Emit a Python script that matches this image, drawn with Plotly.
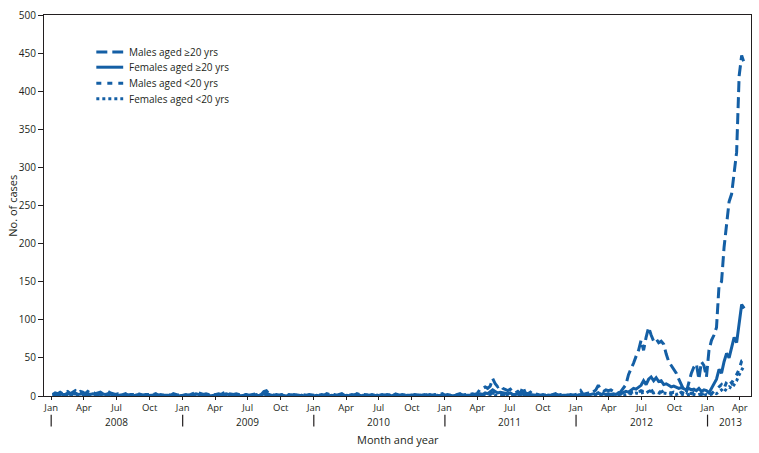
import pandas as pd
import plotly.graph_objects as go

# weekly counts, one list per year (2008-2012 full years, 2013 through mid-April)
weeks = pd.date_range('2008-01-05', '2013-04-13', freq='7D')

m20_2008 = [2, 4, 3, 5, 3, 4, 6, 3, 5, 7, 4, 6, 5,
            3, 6, 4, 5, 3, 4, 5, 3, 4, 6, 4, 3, 2,
            3, 2, 2, 3, 1, 2, 2, 1, 3, 2, 1, 2, 2,
            1, 2, 3, 1, 2, 1, 2, 2, 1, 3, 2, 1, 2]
m20_2009 = [1, 2, 1, 2, 3, 5, 4, 3, 2, 3, 2, 1, 2,
            2, 3, 2, 4, 5, 3, 2, 2, 3, 2, 1, 2, 2,
            1, 2, 2, 3, 1, 2, 6, 7, 3, 2, 1, 2, 1,
            2, 1, 1, 2, 1, 2, 1, 1, 2, 1, 1, 2, 1]
m20_2010 = [1, 2, 1, 2, 1, 3, 2, 1, 2, 1, 2, 3, 1,
            2, 1, 2, 1, 3, 2, 1, 2, 1, 1, 2, 1, 2,
            1, 2, 1, 2, 1, 1, 3, 2, 1, 2, 1, 1, 2,
            1, 2, 1, 1, 2, 3, 1, 2, 1, 2, 1, 2, 3]
m20_2011 = [1, 2, 1, 2, 1, 2, 3, 1, 2, 1, 2, 3, 2,
            4, 9, 10, 12, 10, 13, 23, 16, 12, 14, 10, 9, 7,
            9, 5, 4, 6, 3, 12, 4, 3, 5, 2, 3, 2, 1,
            2, 1, 2, 1, 2, 3, 1, 2, 1, 2, 1, 2, 1, 2]
m20_2012 = [3, 7, 2, 3, 4, 3, 5, 8, 14, 8, 6, 8, 7,
            8, 6, 5, 4, 6, 10, 15, 28, 35, 43, 52, 60, 73,
            60, 77, 90, 80, 72, 75, 70, 72, 68, 55, 45, 40, 35,
            30, 22, 15, 8, 5, 18, 30, 38, 42, 22, 45, 40, 25]
m20_2013 = [60, 73, 80, 90, 145, 150, 195, 225, 255, 265, 295, 320, 420, 447, 437]

f20_2008 = [1, 2, 1, 3, 2, 2, 4, 2, 3, 4, 2, 3, 3,
            2, 3, 2, 3, 2, 2, 3, 2, 2, 3, 2, 1, 1,
            1, 1, 2, 1, 1, 1, 0, 1, 2, 1, 1, 1, 0,
            1, 1, 2, 1, 0, 1, 1, 1, 0, 1, 1, 0, 1]
f20_2009 = [1, 1, 0, 1, 2, 3, 2, 2, 1, 1, 1, 0, 1,
            1, 2, 1, 2, 3, 2, 1, 1, 2, 1, 0, 1, 1,
            0, 1, 1, 2, 0, 1, 3, 4, 2, 1, 0, 1, 0,
            1, 0, 0, 1, 1, 0, 1, 0, 1, 0, 0, 1, 0]
f20_2010 = [0, 1, 0, 1, 1, 1, 0, 1, 1, 0, 1, 2, 0,
            1, 0, 1, 1, 2, 1, 0, 1, 1, 0, 1, 0, 1,
            0, 1, 0, 1, 1, 0, 2, 1, 0, 1, 0, 1, 1,
            0, 1, 0, 1, 1, 2, 0, 1, 0, 1, 0, 1, 1]
f20_2011 = [0, 1, 1, 0, 1, 1, 2, 1, 0, 1, 1, 2, 1,
            2, 3, 2, 4, 3, 5, 8, 6, 4, 5, 4, 3, 3,
            4, 2, 2, 3, 1, 5, 2, 1, 2, 1, 1, 1, 0,
            1, 0, 1, 1, 0, 2, 1, 0, 1, 1, 0, 1, 1, 0]
f20_2012 = [1, 2, 1, 2, 1, 2, 3, 2, 4, 2, 3, 2, 3,
            2, 3, 2, 4, 3, 4, 6, 5, 8, 10, 9, 12, 14,
            20, 15, 22, 25, 20, 24, 19, 20, 15, 16, 14, 12, 13,
            12, 10, 11, 9, 8, 10, 8, 9, 7, 10, 6, 8, 7]
f20_2013 = [4, 10, 18, 22, 35, 30, 45, 56, 50, 64, 77, 70, 95, 120, 115]

mu20_2008 = [1, 1, 2, 1, 1, 2, 1, 2, 1, 3, 2, 1, 2,
             1, 2, 1, 1, 2, 1, 1, 2, 1, 1, 1, 0, 1,
             0, 1, 1, 0, 1, 0, 1, 1, 0, 1, 0, 1, 0,
             1, 0, 1, 0, 1, 1, 0, 1, 0, 1, 0, 1, 0]
mu20_2009 = [0, 1, 0, 1, 1, 2, 1, 1, 0, 1, 0, 0, 1,
             1, 1, 0, 1, 2, 1, 0, 1, 1, 0, 0, 1, 0,
             0, 1, 0, 1, 0, 1, 2, 2, 1, 0, 0, 1, 0,
             0, 1, 0, 0, 1, 0, 0, 1, 0, 0, 1, 0, 0]
mu20_2010 = [0, 0, 1, 0, 0, 1, 1, 0, 1, 0, 0, 1, 0,
             0, 1, 0, 0, 1, 0, 1, 0, 0, 1, 0, 0, 1,
             0, 0, 1, 0, 1, 0, 1, 0, 0, 1, 0, 0, 0,
             1, 0, 0, 1, 0, 1, 0, 0, 1, 0, 1, 0, 1]
mu20_2011 = [0, 1, 0, 0, 1, 0, 1, 0, 1, 0, 0, 1, 1,
             1, 2, 1, 2, 1, 3, 4, 3, 2, 2, 2, 1, 1,
             2, 1, 1, 1, 0, 2, 1, 0, 1, 0, 1, 0, 0,
             1, 0, 0, 1, 0, 1, 0, 0, 1, 0, 1, 0, 0, 1]
mu20_2012 = [1, 2, 1, 1, 2, 1, 2, 3, 4, 2, 2, 3, 2,
             2, 1, 2, 2, 3, 2, 3, 4, 4, 5, 6, 5, 7,
             6, 8, 7, 6, 8, 7, 6, 5, 7, 6, 5, 4, 5,
             4, 3, 5, 3, 2, 4, 3, 5, 3, 4, 2, 3, 2]
mu20_2013 = [2, 3, 6, 10, 12, 15, 10, 18, 22, 17, 23, 28, 35, 46, 47]

fu20_2008 = [0, 1, 1, 0, 1, 1, 2, 1, 1, 2, 1, 1, 1,
             1, 1, 0, 1, 1, 0, 1, 1, 0, 1, 1, 0, 0,
             1, 0, 0, 1, 0, 0, 1, 0, 0, 1, 0, 0, 1,
             0, 0, 1, 0, 0, 1, 0, 0, 1, 0, 0, 1, 0]
fu20_2009 = [0, 0, 1, 0, 0, 1, 1, 0, 0, 1, 0, 0, 0,
             0, 1, 0, 0, 1, 0, 0, 0, 1, 0, 0, 0, 1,
             0, 0, 0, 1, 0, 0, 1, 1, 0, 0, 0, 0, 1,
             0, 0, 0, 1, 0, 0, 0, 0, 1, 0, 0, 0, 0]
fu20_2010 = [0, 0, 0, 1, 0, 0, 0, 1, 0, 0, 0, 0, 1,
             0, 0, 0, 1, 0, 0, 0, 0, 1, 0, 0, 0, 0,
             1, 0, 0, 0, 0, 1, 0, 0, 0, 0, 1, 0, 0,
             0, 0, 1, 0, 0, 0, 0, 1, 0, 0, 0, 0, 1]
fu20_2011 = [0, 0, 0, 1, 0, 0, 0, 1, 0, 0, 1, 0, 0,
             0, 1, 0, 1, 0, 1, 2, 1, 1, 1, 0, 1, 0,
             1, 0, 0, 1, 0, 1, 0, 0, 0, 1, 0, 0, 0,
             0, 0, 1, 0, 0, 0, 1, 0, 0, 0, 0, 1, 0, 0]
fu20_2012 = [0, 1, 0, 1, 1, 0, 1, 1, 2, 1, 1, 1, 1,
             1, 1, 0, 1, 2, 1, 2, 2, 3, 3, 4, 3, 4,
             5, 4, 6, 5, 4, 5, 4, 3, 4, 3, 3, 2, 3,
             2, 3, 2, 2, 1, 2, 3, 2, 1, 2, 2, 1, 2]
fu20_2013 = [1, 2, 4, 3, 6, 8, 5, 10, 12, 10, 15, 20, 28, 35, 40]

males_20 = m20_2008 + m20_2009 + m20_2010 + m20_2011 + m20_2012 + m20_2013
females_20 = f20_2008 + f20_2009 + f20_2010 + f20_2011 + f20_2012 + f20_2013
males_u20 = mu20_2008 + mu20_2009 + mu20_2010 + mu20_2011 + mu20_2012 + mu20_2013
females_u20 = fu20_2008 + fu20_2009 + fu20_2010 + fu20_2011 + fu20_2012 + fu20_2013

year_labels = ['2008', '2009', '2010', '2011', '2012', '2013']
year_mid = ['2008-07-01', '2009-07-01', '2010-07-01', '2011-07-01', '2012-07-01', '2013-03-07']
year_starts = ['2008-01-01', '2009-01-01', '2010-01-01', '2011-01-01', '2012-01-01', '2013-01-01']
month_ticks = pd.date_range('2008-01-01', '2013-04-01', freq='QS')
month_names = {1: 'Jan', 4: 'Apr', 7: 'Jul', 10: 'Oct'}

blue = '#145fa5'
txt = '#231f20'
font = 'Open Sans'

fig = go.Figure()
series = [('Males aged ≥20 yrs', males_20, '11px,5px'),
          ('Females aged ≥20 yrs', females_20, 'solid'),
          ('Males aged <20 yrs', males_u20, '5px,6px'),
          ('Females aged <20 yrs', females_u20, '3px,3px')]
for name, vals, dash in series:
    assert len(vals) == len(weeks), (name, len(vals))
    fig.add_trace(go.Scatter(x=weeks, y=vals, mode='lines', name=name, showlegend=False,
                             line=dict(color=blue, width=3, dash=dash)))

# legend drawn by hand so the rows sit as tightly as in the original
legend_y = [0.903, 0.863, 0.821, 0.780]
for (name, vals, dash), ly in zip(series, legend_y):
    fig.add_shape(type='line', xref='paper', yref='paper', x0=0.074, x1=0.112,
                  y0=ly, y1=ly, line=dict(color=blue, width=3, dash=dash))
    fig.add_annotation(x=0.118, y=ly, xref='paper', yref='paper', text=name,
                       showarrow=False, xanchor='left', yanchor='middle',
                       font=dict(size=10, color=txt, family=font))

for xs in year_starts:
    fig.add_shape(type='line', xref='x', yref='paper', x0=xs, x1=xs,
                  y0=-0.049, y1=-0.08, line=dict(color=txt, width=1.2))
for lab, xm in zip(year_labels, year_mid):
    fig.add_annotation(x=xm, y=-0.069, xref='x', yref='paper', text=lab,
                       showarrow=False, yanchor='middle',
                       font=dict(size=10, color=txt, family=font))

fig.add_annotation(x=0.5, y=-0.114, xref='paper', yref='paper', text='Month and year',
                   showarrow=False, yanchor='middle',
                   font=dict(size=11, color=txt, family=font))
fig.add_annotation(x=-0.045, y=0.5, xref='paper', yref='paper', text='No. of cases',
                   showarrow=False, textangle=-90, xanchor='center',
                   font=dict(size=11, color=txt, family=font))

fig.update_layout(
    width=759, height=453,
    margin=dict(l=44, r=7, t=10, b=57),
    paper_bgcolor='white', plot_bgcolor='white',
    font=dict(family=font, size=10, color=txt),
    xaxis=dict(range=['2007-12-12', '2013-05-02'], showgrid=False, zeroline=False,
               tickvals=month_ticks, ticktext=[month_names[d.month] for d in month_ticks],
               ticks='outside', ticklen=3, tickcolor=txt, showline=True,
               linecolor=txt, linewidth=1, mirror=True, tickfont=dict(size=9.5)),
    yaxis=dict(range=[0, 500], dtick=50, showgrid=False, zeroline=False,
               ticks='outside', ticklen=5, tickcolor=txt, showline=True,
               linecolor=txt, linewidth=1, mirror=True, tickfont=dict(size=10)),
)

# drop the page's default body margin so the figure fills the window exactly
fig.write_html('out.html', config={'displayModeBar': False},
               post_script="document.body.style.margin='0';")
